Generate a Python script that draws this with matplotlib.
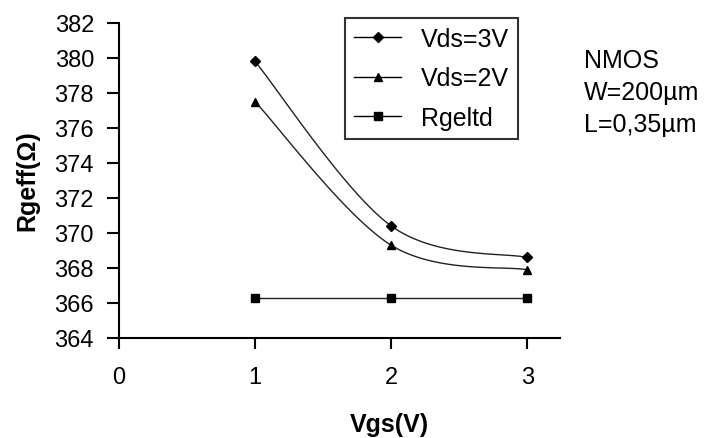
import matplotlib.pyplot as plt
import numpy as np

plt.rcParams['font.family'] = ['Liberation Sans', 'DejaVu Sans']

vgs = [1, 2, 3]
vds3 = [379.8, 370.4, 368.6]
vds2 = [377.5, 369.3, 367.9]
rgeltd = [366.3, 366.3, 366.3]
labels = ["Vds=3V", "Vds=2V", "Rgeltd"]
note_lines = ["NMOS", "W=200\u00b5m", "L=0,35\u00b5m"]


# Excel-like smoothed line: cubic Bezier segments (Catmull-Rom style)
def smooth(x, y, n=40):
    x = np.asarray(x, float)
    y = np.asarray(y, float)
    px = np.concatenate([[x[0]], x, [x[-1]]])
    py = np.concatenate([[y[0]], y, [y[-1]]])
    xs, ys = [], []
    t = np.linspace(0, 1, n)
    for i in range(1, len(px) - 2):
        p0 = np.array([px[i], py[i]])
        p3 = np.array([px[i + 1], py[i + 1]])
        p1 = p0 + (np.array([px[i + 1], py[i + 1]]) - np.array([px[i - 1], py[i - 1]])) / 6
        p2 = p3 - (np.array([px[i + 2], py[i + 2]]) - np.array([px[i], py[i]])) / 6
        b = ((1 - t) ** 3)[:, None] * p0 + (3 * (1 - t) ** 2 * t)[:, None] * p1 \
            + (3 * (1 - t) * t ** 2)[:, None] * p2 + (t ** 3)[:, None] * p3
        xs.extend(b[:, 0])
        ys.extend(b[:, 1])
    return xs, ys


fig = plt.figure(figsize=(7.06, 4.39), dpi=100)
ax = fig.add_axes([119 / 706, 1 - 339 / 439, (560 - 119) / 706, (339 - 24) / 439])

series = [(vds3, "D"), (vds2, "^"), (rgeltd, "s")]
for (vals, mk), lab in zip(series, labels):
    ms = 5 if mk == "D" else 6
    sx, sy = smooth(vgs, vals)
    ax.plot(sx, sy, color="#222222", lw=1)
    ax.plot(vgs, vals, linestyle="none", marker=mk, color="black", markersize=ms)
    ax.plot([], [], color="black", lw=1, marker=mk, markersize=ms, label=lab)

ax.set_xlim(0, 3.24)
ax.set_ylim(364, 382)
ax.set_xticks([0, 1, 2, 3])
ax.set_yticks(np.arange(364, 383, 2))
ax.spines['top'].set_visible(False)
ax.spines['right'].set_visible(False)
ax.spines['left'].set_linewidth(1.5)
ax.spines['bottom'].set_linewidth(1.5)
ax.tick_params(axis='y', direction='out', length=9, width=1.5, pad=9, labelsize=17)
ax.tick_params(axis='x', direction='out', length=8, width=1.5, pad=12, labelsize=17)

fig.text(27 / 706, 1 - 181 / 439, "Rgeff(\u03a9)", rotation=90, fontsize=18,
         fontweight='bold', ha='center', va='center')
fig.text(389 / 706, 1 - 425 / 439, "Vgs(V)", fontsize=18, fontweight='bold',
         ha='center', va='center')

leg = fig.legend(loc='upper left', bbox_to_anchor=(345 / 706, 1 - 19 / 439),
                 frameon=True, fancybox=False, edgecolor='black', fontsize=18,
                 handlelength=1.9, handletextpad=0.8, labelspacing=0.62,
                 borderpad=0.35, borderaxespad=0)
leg.get_frame().set_linewidth(1.5)

for i, line in enumerate(note_lines):
    fig.text(584 / 706, 1 - (61 + 32 * i) / 439, line, fontsize=18,
             ha='left', va='center')

fig.savefig("out.png", dpi=100)
